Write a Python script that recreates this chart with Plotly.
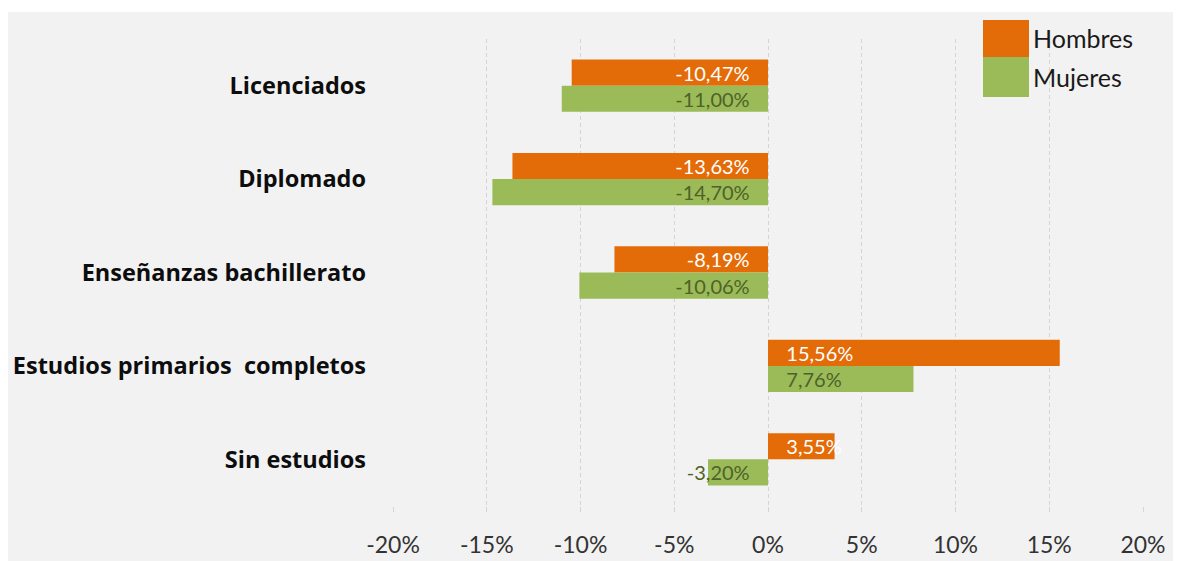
import plotly.graph_objects as go

categories = ["Licenciados", "Diplomado", "Enseñanzas bachillerato",
              "Estudios primarios  completos", "Sin estudios"]
series_names = ["Hombres", "Mujeres"]
hombres = [-10.47, -13.63, -8.19, 15.56, 3.55]
mujeres = [-11.00, -14.70, -10.06, 7.76, -3.20]
tick_vals = [-20, -15, -10, -5, 0, 5, 10, 15, 20]
tick_text = ["-20%", "-15%", "-10%", "-5%", "0%", "5%", "10%", "15%", "20%"]

colors = ["#E36C09", "#9BBB59"]
label_colors = ["#FFFFFF", "#4F6228"]

# the page body adds an 8px margin, so the figure is drawn from (8, 8)
OFF = 8
W, H = 1181 - OFF, 561 - OFF
ML, MR, MT, MB = 385, 38, 31, 55
PW, PH = W - ML - MR, H - MT - MB


def px_x(x):
    return (x - OFF - ML) / PW


def px_y(y):
    return (H - MB - (y - OFF)) / PH


def fmt(v):
    s = f"{v:.2f}".replace(".", ",") + "%"
    pad = "\u00a0\u00a0\u00a0"
    return s + pad if v < 0 else pad + s


fig = go.Figure()
for name, vals, col, lcol in zip(series_names, [hombres, mujeres], colors, label_colors):
    fig.add_trace(go.Bar(
        y=categories, x=vals, name=name, orientation="h",
        marker=dict(color=col, line=dict(width=0)),
        text=[fmt(v) for v in vals],
        textposition="inside", insidetextanchor="start",
        textfont=dict(family="Lato", size=20, color=lcol),
        cliponaxis=False, showlegend=False,
    ))

shapes = [
    dict(type="rect", xref="paper", yref="paper", x0=px_x(OFF), x1=px_x(1181),
         y0=px_y(12), y1=px_y(OFF), fillcolor="white", line=dict(width=0), layer="below"),
]
annotations = []
leg_y = [(20, 57), (57, 97)]
for name, col, (y0, y1) in zip(series_names, colors, leg_y):
    shapes.append(dict(type="rect", xref="paper", yref="paper",
                       x0=px_x(983), x1=px_x(1029), y0=px_y(y1), y1=px_y(y0),
                       fillcolor=col, line=dict(width=0)))
    annotations.append(dict(xref="paper", yref="paper", x=px_x(1031), y=px_y((y0 + y1) / 2),
                            text=name, showarrow=False, xanchor="left", yanchor="middle",
                            font=dict(family="Lato", size=25, color="#1a1a1a")))

fig.update_layout(
    width=W, height=H,
    margin=dict(l=ML, r=MR, t=MT, b=MB, autoexpand=False),
    paper_bgcolor="#F2F2F2", plot_bgcolor="#F2F2F2",
    barmode="group", bargap=0.44, bargroupgap=0,
    uniformtext=dict(minsize=20, mode="show"),
    shapes=shapes, annotations=annotations,
    xaxis=dict(range=[-20, 20], tickvals=tick_vals, ticktext=tick_text,
               automargin=False,
               showgrid=True, gridcolor="#D4D4D4", griddash="4px,3px", gridwidth=1,
               zeroline=False, showline=False,
               ticks="outside", ticklen=5, tickcolor="#D4D4D4",
               ticklabelstandoff=13,
               tickfont=dict(family="Lato", size=23, color="#333333")),
    yaxis=dict(autorange="reversed", automargin=False,
               showgrid=False, zeroline=False, showline=False,
               ticks="", ticklabelstandoff=26,
               tickfont=dict(family="Open Sans", size=23.5, color="#0d0d0d", weight="bold")),
)

fig.write_html("out.html")
